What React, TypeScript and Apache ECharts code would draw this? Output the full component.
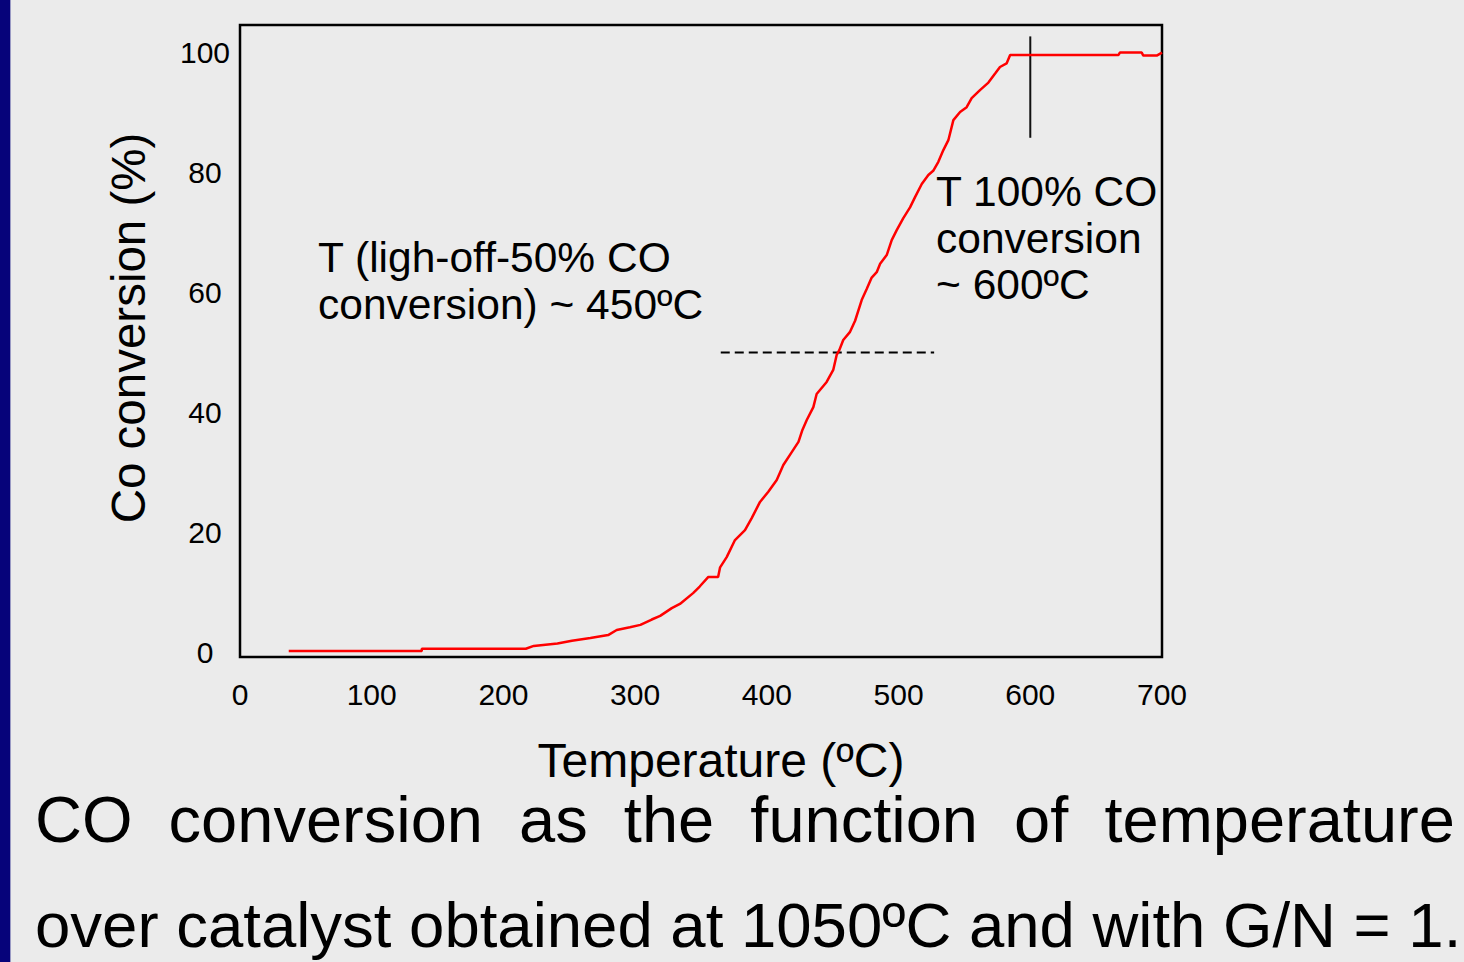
import React, { useEffect, useRef } from "react";
import * as echarts from "echarts";

const temperatures = [
  37, 138, 138, 217, 223, 241, 252, 266, 279.5, 286, 296, 304, 312.6, 319, 327.8, 334, 344, 349,
  355.6, 363, 364.5, 369.5, 375.8, 383.4, 388.5, 394.8, 401.1, 407.5, 412.5, 418.9, 424, 427,
  430.3, 435.3, 437.8, 445.4, 450.4, 453, 455, 458, 463, 467, 472, 475.8, 479.6, 483.4, 486, 491,
  494.8, 498.6, 503.6, 508.7, 512.5, 517.6, 522.6, 526.3, 530.2, 534, 537.8, 541.6, 546.7, 551.7,
  555.5, 561.8, 568.2, 573.3, 577, 582, 584.7, 667, 668, 684.6, 685.8, 696, 700,
];
const conversions = [
  0.25, 0.25, 0.63, 0.63, 1.1, 1.5, 1.95, 2.4, 2.9, 3.75, 4.2, 4.6, 5.5, 6.1, 7.4, 8.1, 9.9, 11,
  12.6, 12.6, 14.2, 15.9, 18.75, 20.4, 22.4, 25.1, 26.8, 28.75, 31.25, 33.4, 35.1, 37.1, 38.75,
  40.9, 43.1, 45.1, 47.1, 49.6, 50.4, 52.1, 53.4, 55.3, 58.75, 60.6, 62.5, 63.4, 64.8, 66.25,
  68.75, 70.4, 72.4, 74.2, 75.9, 78.1, 79.6, 80.3, 81.8, 83.75, 85.4, 88.75, 90.1, 90.9, 92.4,
  93.75, 95, 96.5, 97.6, 98.2, 99.6, 99.6, 100, 100, 99.5, 99.5, 100,
];
const yTicks = [0, 20, 40, 60, 80, 100];
const lightOffLine = [[365, 50], [527, 50]];
const fullConvLine = [[600, 102.7], [600, 85.8]];

const xTitle = "Temperature (ºC)";
const yTitle = "Co conversion (%)";
const noteLightOff = "T (ligh-off-50% CO\nconversion) ~ 450ºC";
const noteFull = "T 100% CO\nconversion\n~ 600ºC";
const caption1 = "CO  conversion  as  the  function  of  temperature";
const caption2 = "over catalyst obtained at 1050ºC and with G/N = 1.";

const FONT = "'Liberation Sans', Arial, Helvetica, sans-serif";

export default function App() {
  const ref = useRef<HTMLDivElement>(null);
  useEffect(() => {
    if (!ref.current) return;
    const chart = echarts.init(ref.current, null, { renderer: "svg" });
    const data = temperatures.map((t, i) => [t, conversions[i]]);
    chart.setOption({
      animation: false,
      backgroundColor: "#ebebeb",
      textStyle: { fontFamily: FONT },
      grid: {
        left: 240,
        top: 25,
        right: 302,
        bottom: 305,
        show: true,
        borderColor: "#000",
        borderWidth: 2.5,
        backgroundColor: "transparent",
      },
      xAxis: {
        type: "value",
        min: 0,
        max: 700,
        interval: 100,
        axisLine: { show: false },
        axisTick: { show: false },
        splitLine: { show: false },
        axisLabel: { fontSize: 30, color: "#000", margin: 22, fontFamily: FONT },
      },
      yAxis: {
        type: "value",
        min: -0.75,
        max: 104.6,
        axisLine: { show: false },
        axisTick: { show: false },
        splitLine: { show: false },
        axisLabel: {
          customValues: yTicks,
          fontSize: 30,
          color: "#000",
          align: "center",
          margin: 35,
          fontFamily: FONT,
        },
      },
      series: [
        {
          type: "line",
          data,
          symbol: "none",
          lineStyle: { color: "#ff0000", width: 2.5 },
          z: 3,
        },
        {
          type: "line",
          data: lightOffLine,
          symbol: "none",
          lineStyle: { color: "#000", width: 2, type: [9, 5] },
          z: 2,
        },
        {
          type: "line",
          data: fullConvLine,
          symbol: "none",
          lineStyle: { color: "#111", width: 2 },
          z: 2,
        },
      ],
      graphic: [
        { type: "rect", left: 0, top: 0, shape: { width: 10, height: 962 }, style: { fill: "#06037a" } },
        { type: "rect", left: 10, top: 0, shape: { width: 1, height: 962 }, style: { fill: "#9a9ac4" } },
        {
          type: "text",
          x: 721,
          y: 760,
          style: { text: xTitle, font: `48px ${FONT}`, fill: "#000", align: "center", verticalAlign: "middle" },
        },
        {
          type: "text",
          x: 128,
          y: 328,
          rotation: Math.PI / 2,
          style: { text: yTitle, font: `47.5px ${FONT}`, fill: "#000", align: "center", verticalAlign: "middle" },
        },
        {
          type: "text",
          x: 318,
          y: 281,
          style: { text: noteLightOff, font: `42.5px ${FONT}`, lineHeight: 46.5, fill: "#000", align: "left", verticalAlign: "middle" },
        },
        {
          type: "text",
          x: 936,
          y: 238,
          style: { text: noteFull, font: `42.5px ${FONT}`, lineHeight: 46.5, fill: "#000", align: "left", verticalAlign: "middle" },
        },
        {
          type: "text",
          x: 35,
          y: 819,
          style: { text: caption1, font: `65px ${FONT}`, fill: "#000", align: "left", verticalAlign: "middle" },
        },
        {
          type: "text",
          x: 35,
          y: 925,
          style: { text: caption2, font: `63.5px ${FONT}`, fill: "#000", align: "left", verticalAlign: "middle" },
        },
      ],
    });
    return () => chart.dispose();
  }, []);
  return (
    <div
      ref={ref}
      style={{ position: "fixed", left: 0, top: 0, width: 1464, height: 962, background: "#ebebeb" }}
    />
  );
}
